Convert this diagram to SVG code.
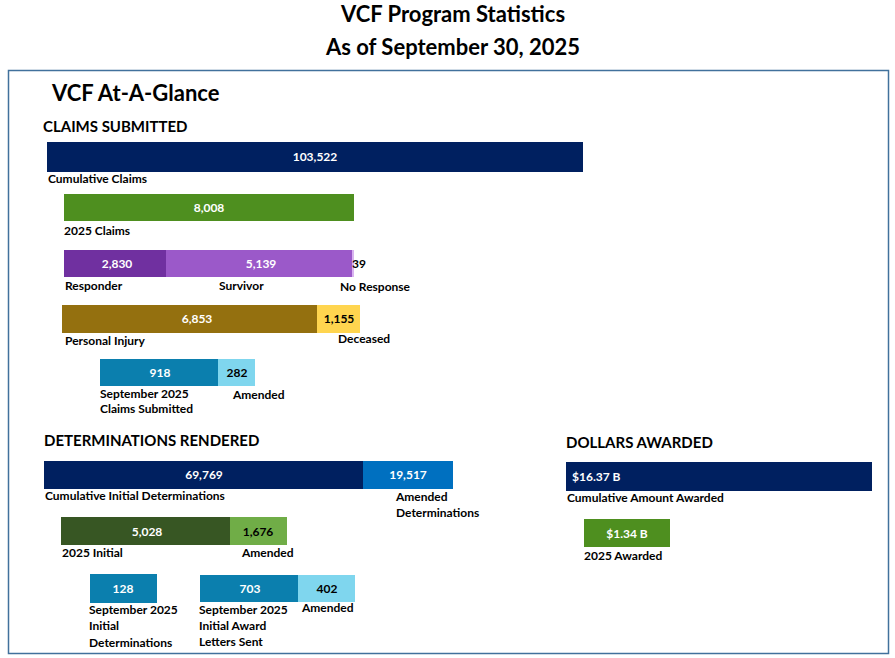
<svg xmlns="http://www.w3.org/2000/svg" width="895" height="658" viewBox="0 0 895 658">
<style>
text{font-family:Lato,"Open Sans","Liberation Sans",sans-serif;font-weight:bold}
.t{font-size:22px;text-anchor:middle;fill:#000}
.h{font-size:15px;fill:#000}
.l{font-size:12px;fill:#000}
.w{font-size:12px;fill:#fff;text-anchor:middle}
.b{font-size:12px;fill:#000;text-anchor:middle}
</style>
<rect width="895" height="658" fill="#fff"/>
<text class="t" x="453" y="22">VCF Program Statistics</text>
<text class="t" x="453" y="55">As of September 30, 2025</text>
<rect x="8.5" y="70.5" width="880" height="583" fill="none" stroke="#41719C" stroke-width="1.5"/>
<text x="52" y="101" style="font-size:22px">VCF At-A-Glance</text>
<text class="h" x="43" y="132">CLAIMS SUBMITTED</text>
<g id="cumulative-claims"><rect x="47" y="142" width="536" height="30" fill="#002060"/><text class="w" x="315" y="161">103,522</text><text class="l" x="48" y="183">Cumulative Claims</text></g>
<g id="claims-2025"><rect x="64" y="194" width="290" height="27" fill="#4E8F1F"/><text class="w" x="209" y="212">8,008</text><text class="l" x="64" y="235">2025 Claims</text></g>
<g id="claimant-type">
<rect x="64" y="250" width="102" height="27" fill="#7030A0"/><rect x="166" y="250" width="186" height="27" fill="#9B59C9"/><rect x="352" y="250" width="2" height="27" fill="#D9B3F0"/>
<text class="w" x="117" y="268">2,830</text><text class="w" x="261" y="268">5,139</text><text class="l" x="352" y="268">39</text>
<text class="l" x="65" y="290">Responder</text><text class="l" x="219" y="290">Survivor</text><text class="l" x="340" y="291">No Response</text></g>
<g id="claim-kind">
<rect x="62" y="305" width="255" height="28" fill="#94700F"/><rect x="317" y="305" width="43" height="28" fill="#FFD54F"/>
<text class="w" x="197" y="323">6,853</text><text class="b" x="339" y="323">1,155</text>
<text class="l" x="65" y="345">Personal Injury</text><text class="l" x="338" y="343">Deceased</text></g>
<g id="sept-claims">
<rect x="100" y="359" width="118" height="27" fill="#0B7FAE"/><rect x="218" y="359" width="37" height="27" fill="#7FD6EE"/>
<text class="w" x="160" y="377">918</text><text class="b" x="237" y="377">282</text>
<text class="l" x="100" y="398">September 2025</text><text class="l" x="100" y="413">Claims Submitted</text><text class="l" x="233" y="399">Amended</text></g>
<text class="h" x="44" y="446">DETERMINATIONS RENDERED</text>
<g id="cumulative-determinations">
<rect x="44" y="461" width="319" height="28" fill="#002060"/><rect x="363" y="461" width="90" height="28" fill="#0070C0"/>
<text class="w" x="204" y="479">69,769</text><text class="w" x="408" y="479">19,517</text>
<text class="l" x="45" y="500">Cumulative Initial Determinations</text><text class="l" x="396" y="501">Amended</text><text class="l" x="396" y="517">Determinations</text></g>
<g id="determinations-2025">
<rect x="61" y="517" width="169" height="28" fill="#375623"/><rect x="230" y="517" width="57" height="28" fill="#70AD47"/>
<text class="w" x="147" y="536">5,028</text><text class="b" x="258" y="536">1,676</text>
<text class="l" x="62" y="557">2025 Initial</text><text class="l" x="242" y="557">Amended</text></g>
<g id="sept-determinations">
<rect x="90" y="574" width="67" height="29" fill="#0B7FAE"/><text class="w" x="123" y="593">128</text>
<text class="l" x="89" y="614">September 2025</text><text class="l" x="89" y="630">Initial</text><text class="l" x="89" y="647">Determinations</text></g>
<g id="sept-award-letters">
<rect x="200" y="575" width="98" height="27" fill="#0B7FAE"/><rect x="298" y="575" width="57" height="27" fill="#7FD6EE"/>
<text class="w" x="250" y="593">703</text><text class="b" x="327" y="593">402</text>
<text class="l" x="199" y="614">September 2025</text><text class="l" x="199" y="630">Initial Award</text><text class="l" x="199" y="646">Letters Sent</text><text class="l" x="302" y="612">Amended</text></g>
<text class="h" x="566" y="448">DOLLARS AWARDED</text>
<g id="cumulative-awarded"><rect x="566" y="462" width="306" height="29" fill="#002060"/><text class="w" x="572" y="481" style="text-anchor:start">$16.37 B</text><text class="l" x="567" y="502">Cumulative Amount Awarded</text></g>
<g id="awarded-2025"><rect x="584" y="519" width="86" height="28" fill="#4E8F1F"/><text class="w" x="627" y="538">$1.34 B</text><text class="l" x="584" y="560">2025 Awarded</text></g>
</svg>
